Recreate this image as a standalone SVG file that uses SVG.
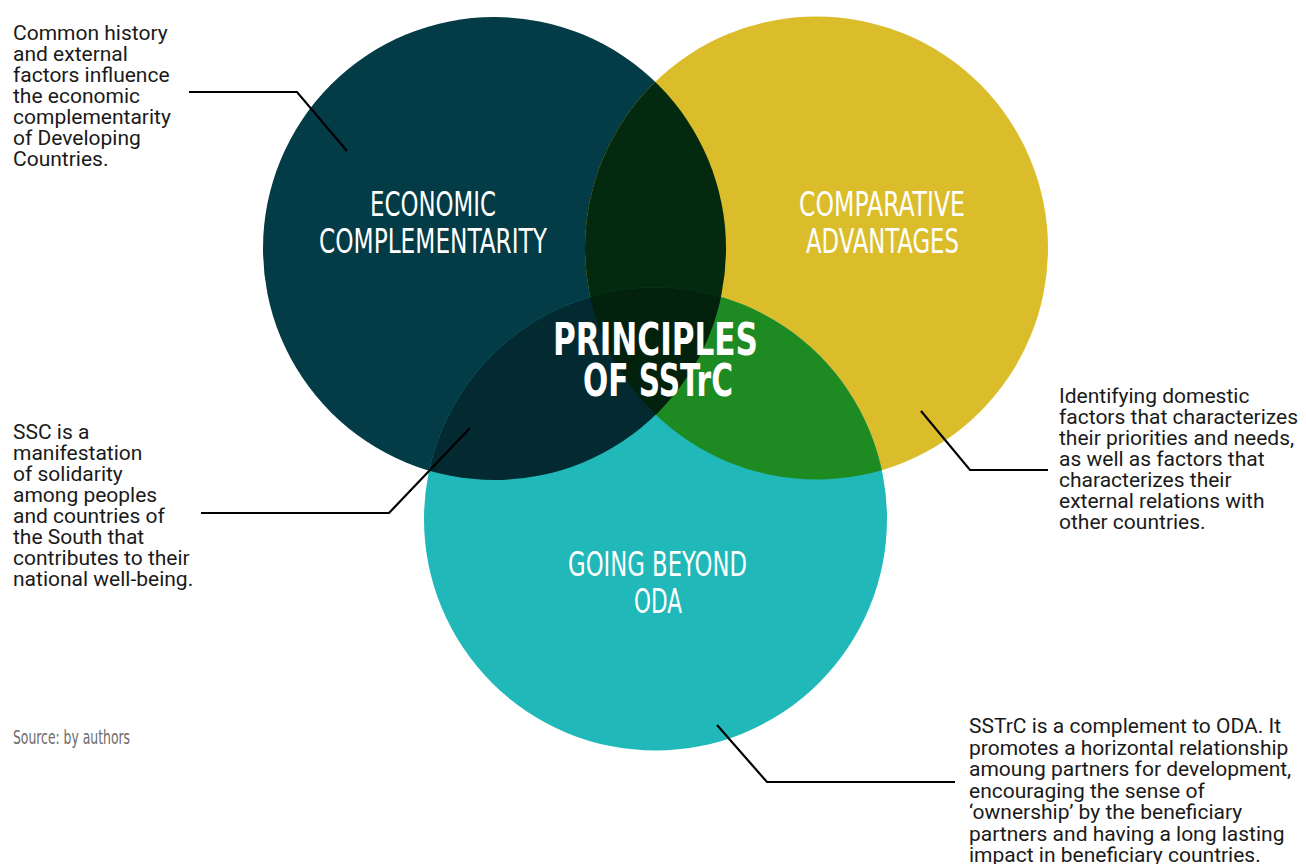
<svg xmlns="http://www.w3.org/2000/svg" width="1306" height="864" viewBox="0 0 1306 864">
<style>
.body{font-family:Roboto,"Liberation Sans",sans-serif;font-size:21px;fill:#1a1a1a}
.head{font-family:"Liberation Sans Narrow","DejaVu Sans Condensed","Liberation Sans",sans-serif;font-size:33px;fill:#ffffff;text-anchor:middle}
.big{font-family:"Liberation Sans Narrow","DejaVu Sans Condensed","Liberation Sans",sans-serif;font-size:45px;font-weight:bold;fill:#ffffff;text-anchor:middle}
.src{font-family:"Liberation Sans Narrow","DejaVu Sans Condensed","Liberation Sans",sans-serif;font-size:19px;fill:#6b6b6b}
.conn{fill:none;stroke:#000;stroke-width:2.2}
</style>
<defs>
<clipPath id="cDark"><circle cx="494.5" cy="248.5" r="231.5"/></clipPath>
<clipPath id="cYellow"><circle cx="816.5" cy="248" r="231.5"/></clipPath>
</defs>
<rect width="1306" height="864" fill="#ffffff"/>
<g id="circles">
<circle cx="494.5" cy="248.5" r="231.5" fill="#033b46"/>
<circle cx="816.5" cy="248" r="231.5" fill="#dbbd2b"/>
<circle cx="655.5" cy="519" r="231.5" fill="#21b8b9"/>
<circle cx="816.5" cy="248" r="231.5" fill="#032a0e" clip-path="url(#cDark)"/>
<circle cx="655.5" cy="519" r="231.5" fill="#1e8a22" clip-path="url(#cYellow)"/>
<circle cx="655.5" cy="519" r="231.5" fill="#032a31" clip-path="url(#cDark)"/>
<g clip-path="url(#cDark)"><circle cx="655.5" cy="519" r="231.5" fill="#02220e" clip-path="url(#cYellow)"/></g>
</g>
<g id="economic">
<text class="head" x="433" y="216" textLength="126" lengthAdjust="spacingAndGlyphs">ECONOMIC</text>
<text class="head" x="433" y="253" textLength="228" lengthAdjust="spacingAndGlyphs">COMPLEMENTARITY</text>
</g>
<g id="comparative">
<text class="head" x="882" y="216" textLength="166" lengthAdjust="spacingAndGlyphs">COMPARATIVE</text>
<text class="head" x="882.5" y="253" textLength="153" lengthAdjust="spacingAndGlyphs">ADVANTAGES</text>
</g>
<g id="beyond">
<text class="head" x="657.5" y="576" textLength="179" lengthAdjust="spacingAndGlyphs">GOING BEYOND</text>
<text class="head" x="658" y="613" textLength="48" lengthAdjust="spacingAndGlyphs">ODA</text>
</g>
<g id="center">
<text class="big" x="655.5" y="355" textLength="205" lengthAdjust="spacingAndGlyphs">PRINCIPLES</text>
<text class="big" x="658" y="396" textLength="150" lengthAdjust="spacingAndGlyphs">OF SSTrC</text>
</g>
<g id="note-economic">
<text class="body" x="13" y="40">Common history</text>
<text class="body" x="13" y="61">and external</text>
<text class="body" x="13" y="82">factors influence</text>
<text class="body" x="13" y="103">the economic</text>
<text class="body" x="13" y="124">complementarity</text>
<text class="body" x="13" y="145">of Developing</text>
<text class="body" x="13" y="166">Countries.</text>
</g>
<g id="note-ssc">
<text class="body" x="13" y="439">SSC is a</text>
<text class="body" x="13" y="460">manifestation</text>
<text class="body" x="13" y="481">of solidarity</text>
<text class="body" x="13" y="502">among peoples</text>
<text class="body" x="13" y="523">and countries of</text>
<text class="body" x="13" y="544">the South that</text>
<text class="body" x="13" y="565">contributes to their</text>
<text class="body" x="13" y="586">national well-being.</text>
</g>
<g id="note-comparative">
<text class="body" x="1059" y="403">Identifying domestic</text>
<text class="body" x="1059" y="424">factors that characterizes</text>
<text class="body" x="1059" y="445">their priorities and needs,</text>
<text class="body" x="1059" y="466">as well as factors that</text>
<text class="body" x="1059" y="487">characterizes their</text>
<text class="body" x="1059" y="508">external relations with</text>
<text class="body" x="1059" y="529">other countries.</text>
</g>
<g id="note-oda">
<text class="body" x="969" y="733">SSTrC is a complement to ODA. It</text>
<text class="body" x="969" y="754.5">promotes a horizontal relationship</text>
<text class="body" x="969" y="776">amoung partners for development,</text>
<text class="body" x="969" y="797.5">encouraging the sense of</text>
<text class="body" x="969" y="819">‘ownership’ by the beneficiary</text>
<text class="body" x="969" y="840.5">partners and having a long lasting</text>
<text class="body" x="969" y="862">impact in beneficiary countries.</text>
</g>
<g id="source">
<text class="src" x="13" y="744" textLength="117" lengthAdjust="spacingAndGlyphs">Source: by authors</text>
</g>
<g id="connectors">
<polyline class="conn" points="189,92 297,92 347,151"/>
<polyline class="conn" points="201,513 389,513 470,428"/>
<polyline class="conn" points="921,411 970,470 1048,470"/>
<polyline class="conn" points="717,725 767,782 955,782"/>
</g>
</svg>
